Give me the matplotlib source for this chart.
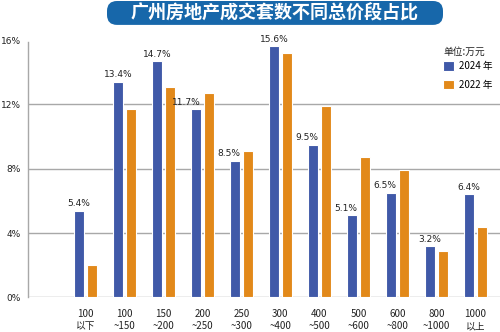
import matplotlib.pyplot as plt
from matplotlib.patches import FancyBboxPatch
import numpy as np

plt.rcParams['font.family'] = ['Noto Sans CJK SC', 'DejaVu Sans']

categories = ["100\n以下", "100\n~150", "150\n~200", "200\n~250", "250\n~300",
              "300\n~400", "400\n~500", "500\n~600", "600\n~800", "800\n~1000",
              "1000\n以上"]
share_2024 = [5.4, 13.4, 14.7, 11.7, 8.5, 15.6, 9.5, 5.1, 6.5, 3.2, 6.4]
share_2022 = [2.0, 11.7, 13.1, 12.7, 9.1, 15.2, 11.9, 8.7, 7.9, 2.9, 4.4]
yticks = [0, 4, 8, 12, 16]

BLUE = '#4059a8'
ORANGE = '#e2891a'
GRID = '#a8a8a8'
TEXT = '#222222'

fig = plt.figure(figsize=(5.0, 3.32), dpi=100)
ax = fig.add_axes([0.056, 0.104, 0.944, 0.7755])

x = np.arange(len(categories))
w = 0.27
off = 0.167
for yv in yticks[:-1]:
    ax.axhline(yv, color=GRID, lw=1.0, zorder=1)

ax.bar(x - off, share_2024, w, color=BLUE, edgecolor='white', lw=0.8, zorder=2, label='2024 年')
ax.bar(x + off, share_2022, w, color=ORANGE, edgecolor='white', lw=0.8, zorder=2, label='2022 年')

# value labels over the 2024 bars; shifted left where the 2022 bar is taller
for xi, v24, v22 in zip(x, share_2024, share_2022):
    if v22 > v24:
        ax.text(xi - off + w / 2, v24 + 0.15, f"{v24}%", ha='right', va='bottom',
                fontsize=6.5, color=TEXT, family=['DejaVu Sans'], zorder=3)
    else:
        ax.text(xi - off, v24 + 0.15, f"{v24}%", ha='center', va='bottom',
                fontsize=6.5, color=TEXT, family=['DejaVu Sans'], zorder=3)

ax.set_xlim(-1.47, 10.63)
ax.set_ylim(0, 16)
ax.set_yticks(yticks)
ax.set_yticklabels([f"{t}%" for t in yticks], fontsize=6.5, color=TEXT, family=['DejaVu Sans'])
ax.set_xticks(x)
ax.set_xticklabels(categories, fontsize=7, color=TEXT, linespacing=1.35)
ax.tick_params(axis='both', length=0)
ax.tick_params(axis='y', pad=5)
ax.tick_params(axis='x', pad=8)
for s in ['top', 'right', 'bottom']:
    ax.spines[s].set_visible(False)
ax.spines['left'].set_color(GRID)
ax.spines['left'].set_linewidth(1.0)
ax.spines['left'].set_bounds(0, 15.85)

# unit note and legend
fig.text(0.886, 0.843, "单位:万元", fontsize=7, color=TEXT, ha='left', va='center')
fig.legend(loc='upper left', bbox_to_anchor=(0.886, 0.815), frameon=False,
           fontsize=7, handlelength=1.1, handleheight=1.1, handletextpad=0.5,
           labelspacing=0.85, borderpad=0, borderaxespad=0)

# title banner
banner = FancyBboxPatch((0.214, 0.925), 0.672, 0.072,
                        boxstyle="round,pad=0,rounding_size=0.02",
                        transform=fig.transFigure, facecolor='#1767aa', edgecolor='none',
                        mutation_aspect=1.5)
fig.patches.append(banner)
fig.text(0.55, 0.961, "广州房地产成交套数不同总价段占比", fontsize=13, fontweight='bold',
         color='white', ha='center', va='center')

fig.savefig('out.png', dpi=100, facecolor='white')
